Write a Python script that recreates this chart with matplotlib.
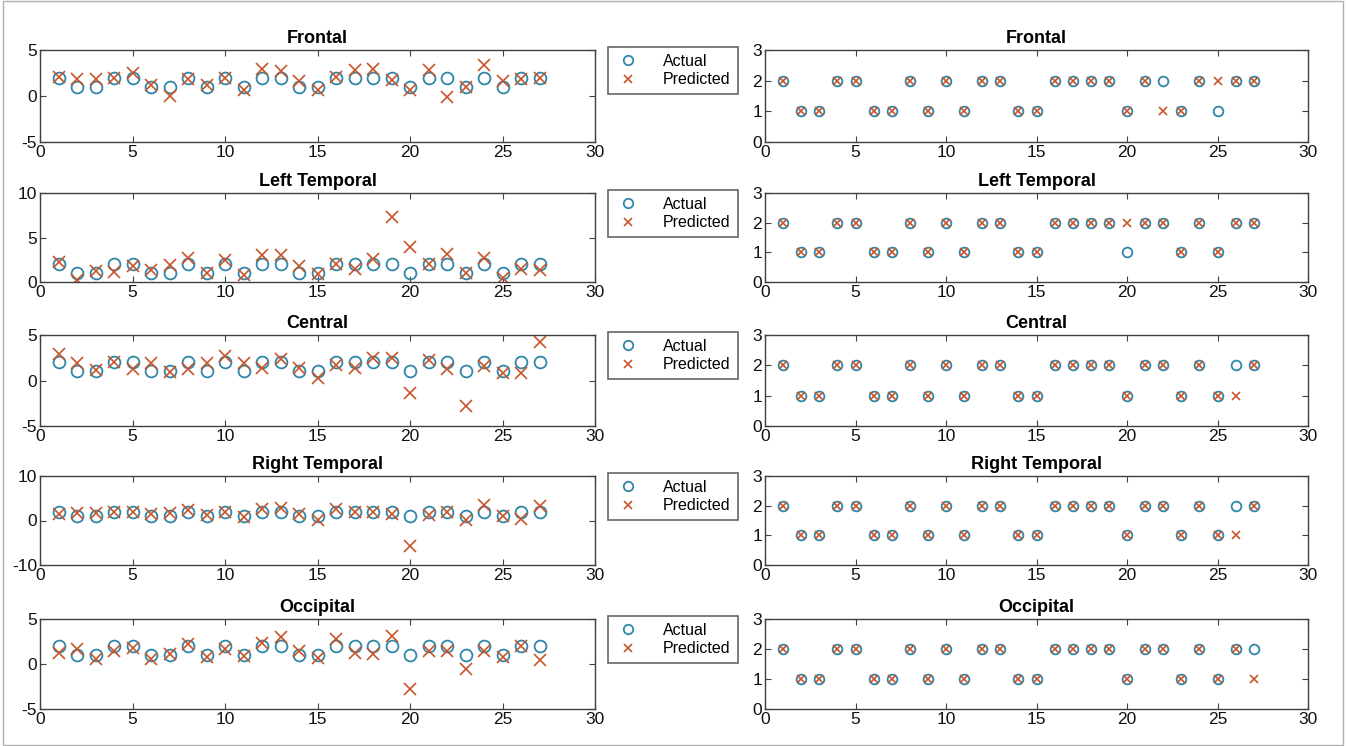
import matplotlib
matplotlib.use("Agg")
import matplotlib.pyplot as plt
from matplotlib.patches import Rectangle

plt.rcParams['font.family'] = ['Liberation Sans', 'DejaVu Sans']
plt.rcParams['axes.unicode_minus'] = False

subjects = list(range(1, 28))
regions = ["Frontal", "Left Temporal", "Central", "Right Temporal", "Occipital"]

actual = [2, 1, 1, 2, 2, 1, 1, 2, 1, 2, 1, 2, 2, 1, 1, 2, 2, 2, 2, 1, 2, 2, 1, 2, 1, 2, 2]

pred_frontal = [2.1, 1.8, 1.9, 2.0, 2.5, 1.2, 0.0, 1.8, 1.2, 2.0, 0.6, 2.9, 2.7, 1.6, 0.6,
                2.1, 2.8, 2.9, 1.7, 0.7, 2.8, -0.1, 1.0, 3.4, 1.6, 1.9, 2.0]
pred_left_temporal = [2.3, 0.2, 1.2, 1.1, 1.8, 1.4, 1.9, 2.7, 1.0, 2.5, 0.8, 3.0, 3.0, 1.8, 0.9,
                      2.0, 1.5, 2.6, 7.3, 3.9, 2.0, 3.1, 1.0, 2.7, 0.4, 1.5, 1.4]
pred_central = [2.9, 1.9, 1.1, 2.0, 1.3, 1.9, 0.9, 1.3, 1.9, 2.7, 1.9, 1.4, 2.4, 1.4, 0.3,
                1.7, 1.4, 2.5, 2.5, -1.4, 2.2, 1.3, -2.8, 1.6, 0.8, 0.8, 4.2]
pred_right_temporal = [1.5, 1.7, 1.6, 1.8, 1.9, 1.4, 1.6, 2.4, 1.3, 1.8, 0.8, 2.5, 2.7, 1.4, 0.1,
                       2.5, 2.0, 2.0, 1.5, -5.7, 1.2, 2.0, 0.2, 3.4, 1.0, 0.4, 3.3]
pred_occipital = [1.2, 1.7, 0.6, 1.5, 1.8, 0.6, 1.1, 2.2, 0.8, 1.7, 0.9, 2.3, 3.0, 1.5, 0.7,
                  2.8, 1.2, 1.1, 3.1, -2.8, 1.5, 1.5, -0.5, 1.5, 0.8, 2.0, 0.4]

cls_frontal = [2, 1, 1, 2, 2, 1, 1, 2, 1, 2, 1, 2, 2, 1, 1, 2, 2, 2, 2, 1, 2, 1, 1, 2, 2, 2, 2]
cls_left_temporal = [2, 1, 1, 2, 2, 1, 1, 2, 1, 2, 1, 2, 2, 1, 1, 2, 2, 2, 2, 2, 2, 2, 1, 2, 1, 2, 2]
cls_central = [2, 1, 1, 2, 2, 1, 1, 2, 1, 2, 1, 2, 2, 1, 1, 2, 2, 2, 2, 1, 2, 2, 1, 2, 1, 1, 2]
cls_right_temporal = [2, 1, 1, 2, 2, 1, 1, 2, 1, 2, 1, 2, 2, 1, 1, 2, 2, 2, 2, 1, 2, 2, 1, 2, 1, 1, 2]
cls_occipital = [2, 1, 1, 2, 2, 1, 1, 2, 1, 2, 1, 2, 2, 1, 1, 2, 2, 2, 2, 1, 2, 2, 1, 2, 1, 2, 1]

left_preds = [pred_frontal, pred_left_temporal, pred_central, pred_right_temporal, pred_occipital]
right_preds = [cls_frontal, cls_left_temporal, cls_central, cls_right_temporal, cls_occipital]
left_ylims = [(-5, 5), (0, 10), (-5, 5), (-10, 10), (-5, 5)]
left_yticks = [[-5, 0, 5], [0, 5, 10], [-5, 0, 5], [-10, 0, 10], [-5, 0, 5]]

C_ACT = '#2f86a8'
C_PRED = '#c8552a'
SPINE = '#404040'

W, H = 1346, 746
fig = plt.figure(figsize=(W / 100, H / 100), dpi=100)
fig.patches.append(Rectangle((0.002, 0.002), 0.996, 0.996, transform=fig.transFigure,
                             fill=False, edgecolor='#b0b0b0', linewidth=1.0))

rows = [(50, 142), (193, 282), (335, 426), (476, 565), (619, 709)]
lx0, lx1 = 40, 595
rx0, rx1 = 765, 1308


def style(ax):
    ax.set_xlim(0, 30)
    ax.set_xticks([0, 5, 10, 15, 20, 25, 30])
    ax.tick_params(direction='in', top=True, right=True, length=4, width=0.8,
                   labelsize=12.5, colors=SPINE, labelcolor='#111111', pad=2)
    for s in ax.spines.values():
        s.set_color(SPINE)
        s.set_linewidth(1.0)


for i, (top, bot) in enumerate(rows):
    axl = fig.add_axes([lx0 / W, 1 - bot / H, (lx1 - lx0) / W, (bot - top) / H])
    axl.plot(subjects, actual, linestyle='none', marker='o', markersize=8.5,
             markerfacecolor='none', markeredgecolor=C_ACT, markeredgewidth=1.3,
             label='Actual')
    axl.plot(subjects, left_preds[i], linestyle='none', marker='x', markersize=8,
             color=C_PRED, markeredgewidth=1.2, label='Predicted')
    axl.set_ylim(*left_ylims[i])
    axl.set_yticks(left_yticks[i])
    style(axl)
    axl.set_title(regions[i], fontsize=13, fontweight='bold', pad=5)
    leg = axl.legend(loc='upper left', bbox_to_anchor=(1.023, 1.035), fontsize=11.5,
                     frameon=True, fancybox=False, handlelength=1.6, handletextpad=1.4,
                     borderpad=0.45, labelspacing=0.2, borderaxespad=0, markerscale=0.8)
    leg.get_frame().set_edgecolor(SPINE)
    leg.get_frame().set_linewidth(1.2)

    axr = fig.add_axes([rx0 / W, 1 - bot / H, (rx1 - rx0) / W, (bot - top) / H])
    axr.plot(subjects, actual, linestyle='none', marker='o', markersize=7,
             markerfacecolor='none', markeredgecolor=C_ACT, markeredgewidth=1.3)
    axr.plot(subjects, right_preds[i], linestyle='none', marker='x', markersize=6,
             color=C_PRED, markeredgewidth=1.2)
    axr.set_ylim(0, 3)
    axr.set_yticks([0, 1, 2, 3])
    style(axr)
    axr.set_title(regions[i], fontsize=13, fontweight='bold', pad=5)

fig.savefig('out.png', dpi=100)
